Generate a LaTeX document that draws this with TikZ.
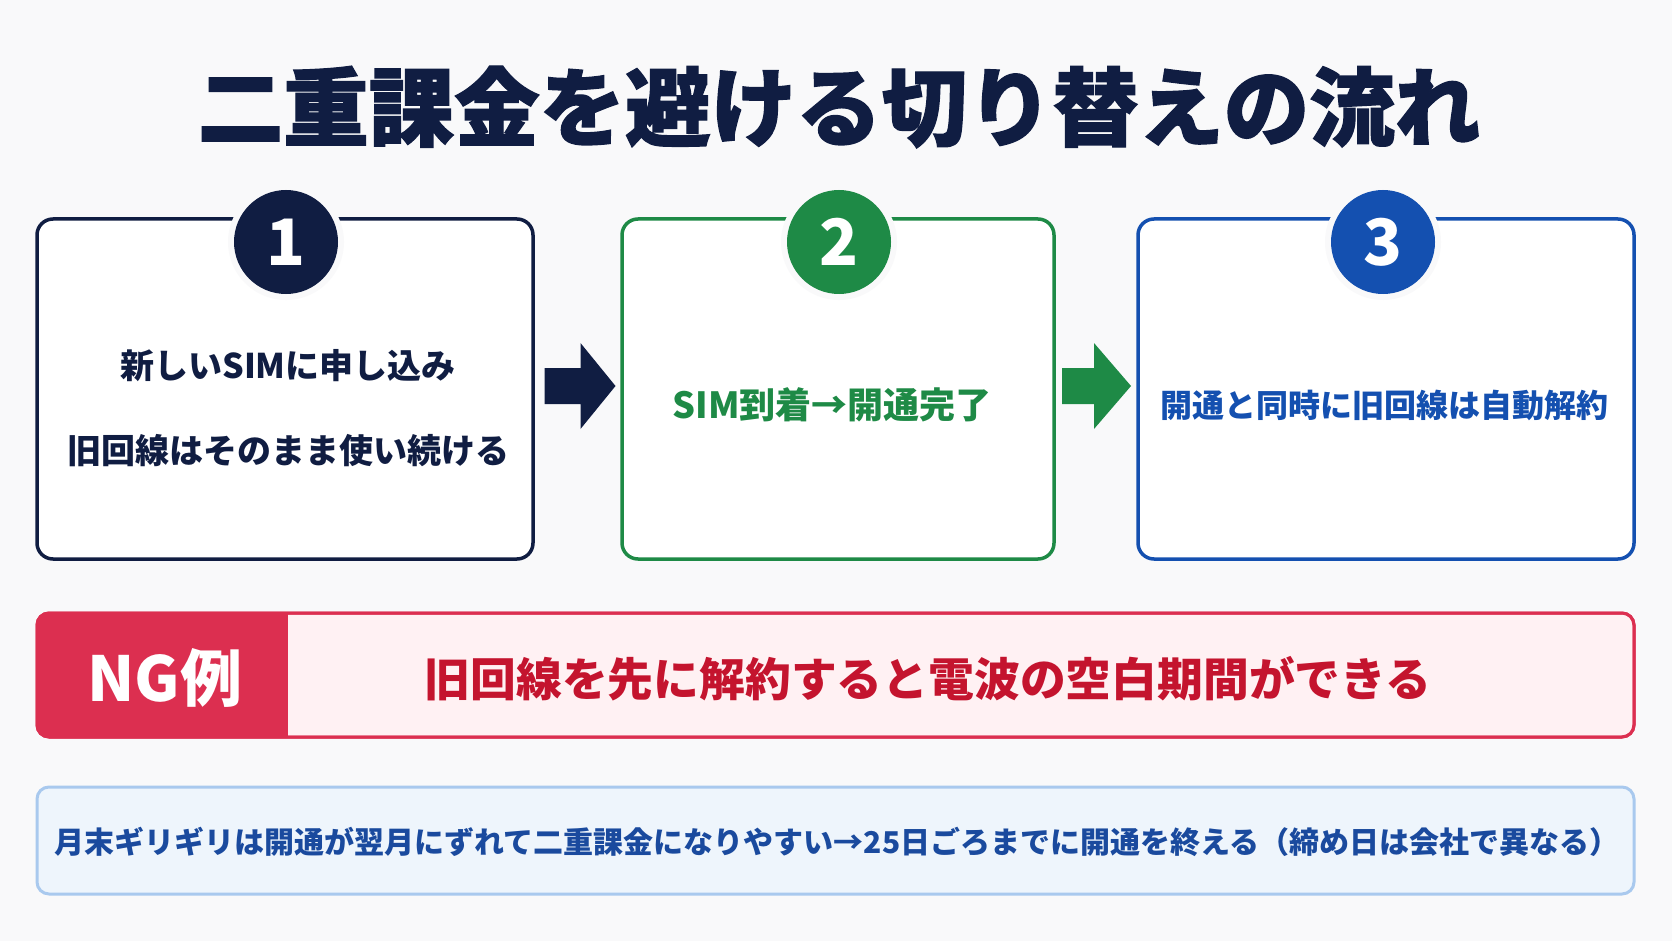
\documentclass[tikz,border=0pt]{standalone}
\usepackage{fontspec}
\setmainfont{Noto Sans CJK JP}
\newfontfamily\heavyjp{Noto Sans CJK JP}[BoldFeatures={FakeBold=1.5}]
\usetikzlibrary{calc}
\definecolor{bgc}{HTML}{F9F9FA}
\definecolor{navy}{HTML}{101D42}
\definecolor{grn}{HTML}{1E8A46}
\definecolor{blu}{HTML}{1450B0}
\definecolor{ngred}{HTML}{DC2F50}
\definecolor{ngtext}{HTML}{C4142E}
\definecolor{pinkf}{HTML}{FFF1F3}
\definecolor{lbb}{HTML}{A9C9EE}
\definecolor{lbf}{HTML}{EEF5FC}
\definecolor{notec}{HTML}{1A4A9E}
\begin{document}
\begin{tikzpicture}[x=1pt,y=-1pt]
\tikzset{
  stepbox/.style={draw, line width=3.5pt, rounded corners=16pt, fill=white, inner sep=0pt, outer sep=0pt},
  numc/.style={circle, minimum size=104pt, inner sep=0pt, text=white, font=\fontsize{64}{64}\selectfont\bfseries},
  stxt/.style={inner sep=0pt, font=\fontsize{34}{40}\selectfont\bfseries},
  wide/.style={line width=3pt, rounded corners=12pt, minimum width=1597pt, inner sep=0pt, outer sep=0pt}
}
\fill[bgc] (0,0) rectangle (1672,941);
\useasboundingbox (0,0) rectangle (1672,941);

% title
\node[text=navy, inner sep=0pt, font=\fontsize{85.5}{86}\heavyjp\bfseries] (title) at (839,107) {二重課金を避ける切り替えの流れ};

% step boxes
\node[stepbox, draw=navy, minimum width=496pt, minimum height=340pt] (s1) at (285,389) {};
\node[stepbox, draw=grn,  minimum width=432pt, minimum height=340pt] (s2) at (838,389) {};
\node[stepbox, draw=blu,  minimum width=496pt, minimum height=340pt] (s3) at (1386,389) {};

% number badges
\coordinate (c1) at ($(s1.north)+(1,23)$);
\coordinate (c2) at ($(s2.north)+(1,23)$);
\coordinate (c3) at ($(s3.north)+(-3,23)$);
\fill[bgc] (c1) circle (58);
\fill[bgc] (c2) circle (58);
\fill[bgc] (c3) circle (58);
\node[numc, fill=navy] (n1) at (c1) {1};
\node[numc, fill=grn]  (n2) at (c2) {2};
\node[numc, fill=blu]  (n3) at (c3) {3};

% step texts
\node[stxt, text=navy] (t1a) at (288,366) {新しいSIMに申し込み};
\node[stxt, text=navy] (t1b) at (288,451) {旧回線はそのまま使い続ける};
\node[stxt, text=grn, font=\fontsize{36}{40}\selectfont\bfseries] (t2) at (832,405) {SIM到着→開通完了};
\node[stxt, text=blu, font=\fontsize{32}{40}\selectfont\bfseries] (t3) at (1384,405) {開通と同時に旧回線は自動解約};

% arrows between steps
\coordinate (a1) at ($(s1.east)!0.5!(s2.west)+(2,-3)$);
\coordinate (a2) at ($(s2.east)!0.5!(s3.west)+(0,-3)$);
\fill[navy] ($(a1)+(-35,-18)$) -- ($(a1)+(1,-18)$) -- ($(a1)+(1,-43)$) -- ($(a1)+(36,0)$) -- ($(a1)+(1,43)$) -- ($(a1)+(1,18)$) -- ($(a1)+(-35,18)$) -- cycle;
\fill[grn] ($(a2)+(-34,-18)$) -- ($(a2)+(-2,-18)$) -- ($(a2)+(-2,-43)$) -- ($(a2)+(35,0)$) -- ($(a2)+(-2,43)$) -- ($(a2)+(-2,18)$) -- ($(a2)+(-34,18)$) -- cycle;

% NG box
\node[wide, draw=ngred, fill=pinkf, minimum height=124pt] (ng) at (835.5,675) {};
\begin{scope}
  \clip[rounded corners=12pt] (ng.north west) rectangle (ng.south east);
  \fill[ngred] (ng.north west) rectangle ($(ng.south west)+(251,0)$);
\end{scope}
\draw[ngred, line width=3pt, rounded corners=12pt] (ng.north west) rectangle (ng.south east);
\node[text=white, inner sep=0pt, font=\fontsize{62}{62}\selectfont\bfseries] (nglabel) at (165,678) {NG例};
\node[text=ngtext, inner sep=0pt, font=\fontsize{45.8}{50}\selectfont\bfseries] (ngt) at (928,679) {旧回線を先に解約すると電波の空白期間ができる};

% note box
\node[wide, draw=lbb, fill=lbf, minimum height=107pt] (note) at (835.5,840.5) {};
\node[text=notec, inner sep=0pt, font=\fontsize{30}{36}\selectfont\bfseries] (notet) at (837,842) {月末ギリギリは開通が翌月にずれて二重課金になりやすい→25日ごろまでに開通を終える（締め日は会社で異なる）};
\end{tikzpicture}
\end{document}
